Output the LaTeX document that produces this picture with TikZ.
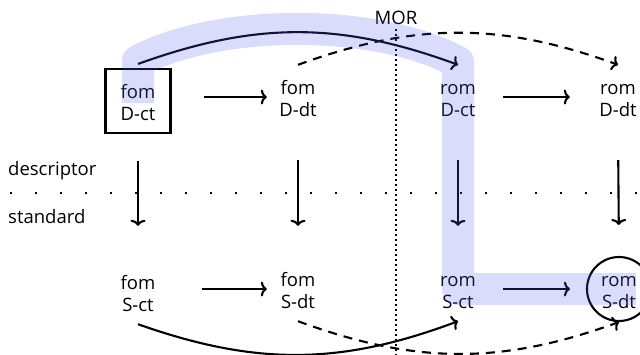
\documentclass[tikz,border=0pt]{standalone}
\usepackage{fontspec}
\setmainfont{Open Sans}
\usetikzlibrary{arrows.meta}
\newcommand\twol[2]{\rule{0pt}{23pt}#1\\\strut #2}
\begin{document}
\begin{tikzpicture}[x=1pt,y=-1pt,
  every node/.style={font=\fontsize{18.5}{22}\selectfont},
  cell/.style={minimum width=64pt,minimum height=64pt,inner sep=0pt,align=center},
  arr/.style={line width=2.1pt,-{To[length=6pt,width=15pt]}},
  dsh/.style={dash pattern=on 9pt off 7pt},
  frame/.style={draw,line width=2.1pt},
  band/.style={line width=32pt,draw={rgb,255:red,80;green,95;blue,235},draw opacity=0.22,line join=round,line cap=butt},
  lbl/.style={inner sep=0pt,anchor=base west}]
\useasboundingbox (0,0) rectangle (640,354);
% nodes
\node[cell,frame,minimum width=65pt] (fDct) at (138,101) {\twol{fom}{D-ct}};
\node[cell] (fDdt) at (298,97) {\twol{fom}{D-dt}};
\node[cell] (rDct) at (458,97) {\twol{rom}{D-ct}};
\node[cell] (rDdt) at (618,97) {\twol{rom}{D-dt}};
\node[cell] (fSct) at (138,292) {\twol{fom}{S-ct}};
\node[cell] (fSdt) at (298,289) {\twol{fom}{S-dt}};
\node[cell] (rSct) at (458,289) {\twol{rom}{S-ct}};
\node[cell,circle,frame] (rSdt) at (619,289) {\twol{rom}{S-dt}};
% labels
\node[lbl] (desc) at (8,175) {descriptor};
\node[lbl] (std) at (8,223) {standard};
\node[inner sep=0pt,anchor=base] (mor) at (396,24) {MOR};
\coordinate (morEnd) at (396,356);
\coordinate (sepL) at (10,193);
\coordinate (sepR) at (642,193);
% separators
\draw[line width=2pt,dash pattern=on 2pt off 23pt] (sepL) -- (sepR);
\draw[line width=2pt,dash pattern=on 2pt off 3pt] ([yshift=-5pt]mor.south) -- (morEnd);
% horizontal arrows
\draw[arr,shorten <=32pt] (fDct.east |- fDdt.west) -- ([xshift=1pt]fDdt.west);
\draw[arr,shorten <=13pt,shorten >=16pt] (rDct.east) -- (rDdt.west);
\draw[arr,shorten <=32pt] (fSct.east |- fSdt.west) -- ([xshift=1pt]fSdt.west);
\draw[arr,shorten <=13pt,shorten >=16pt] (rSct.east) -- (rSdt.west);
% vertical arrows
\draw[arr,shorten <=27pt,shorten >=34pt] (fDct.south) -- (fSct.north);
\draw[arr,shorten <=31pt,shorten >=31pt] (fDdt.south) -- (fSdt.north);
\draw[arr,shorten <=31pt,shorten >=31pt] (rDct.south) -- (rSct.north);
\draw[arr,shorten <=31pt,shorten >=31pt] (rDdt.south) -- (rSdt.north);
% curved arrows
\draw[arr] ([yshift=4pt]fDct.north) to[bend left=20] (rDct.north);
\draw[arr,dsh] (fDdt.north) to[bend left=20] (rDdt.north);
\draw[arr] (fSct.south) to[bend right=20] (rSct.south);
\draw[arr,dsh] (fSdt.south) to[bend right=20] (rSdt.south);
% highlight band
\draw[band] (138,103) -- (138,61) .. controls (220,18) and (376,18) .. (458,62) -- (458,289) -- (636,289);
\end{tikzpicture}
\end{document}
